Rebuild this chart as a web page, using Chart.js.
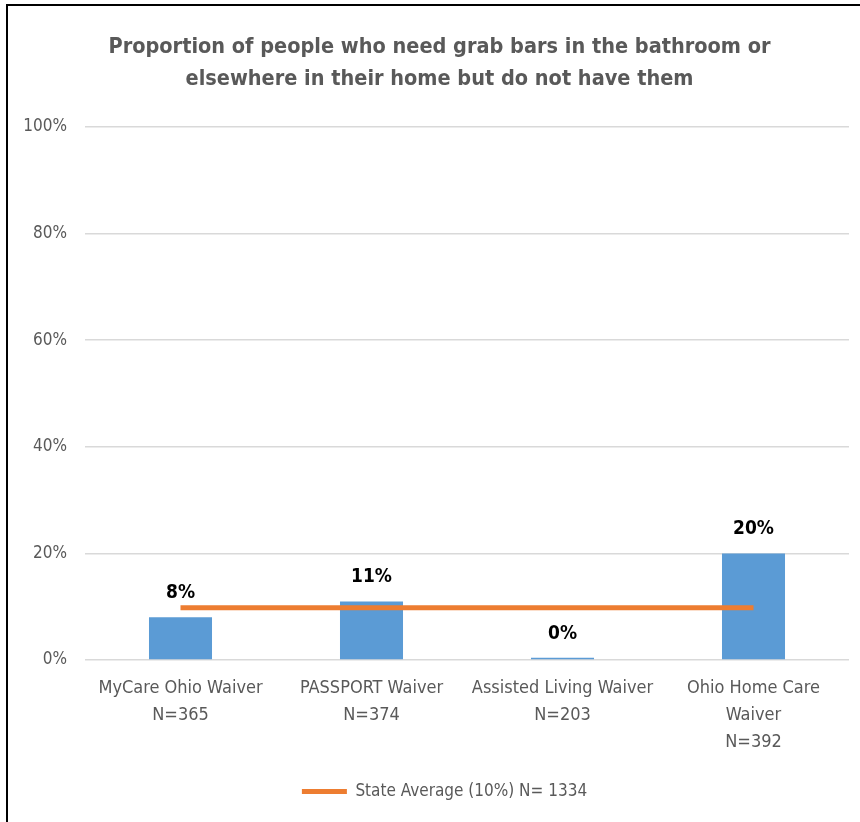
<!DOCTYPE html>
<html>
<head>
<meta charset="utf-8">
<script src="https://cdn.jsdelivr.net/npm/chart.js@4/dist/chart.umd.min.js"></script>
<style>
  html, body { margin: 0; padding: 0; background: #fff; }
  #wrap { position: relative; width: 860px; height: 822px; }
  #frame {
    position: absolute; left: 6px; top: 4px; right: 0; bottom: 0;
    border-top: 2px solid #000; border-left: 2px solid #000;
    pointer-events: none;
  }
</style>
</head>
<body>
<div id="wrap">
  <canvas id="chart" width="860" height="822"></canvas>
  <div id="frame"></div>
</div>
<script>
const categories = [
  ['MyCare Ohio Waiver', 'N=365'],
  ['PASSPORT Waiver', 'N=374'],
  ['Assisted Living Waiver', 'N=203'],
  ['Ohio Home Care', 'Waiver', 'N=392'],
]
const waiverValues = [8, 11, 0.4, 20]
const stateAverage = [9.8, 9.8, 9.8, 9.8]
const yTicks = [0, 20, 40, 60, 80, 100]

const FONT = "'Liberation Sans Narrow', 'DejaVu Sans Condensed', 'Arial Narrow', sans-serif"
const grey = '#595959'

// value labels above the bars
const barLabels = {
  id: 'barLabels',
  afterLayout(chart) {
    // title and legend sit a bit right of centre in the original
    chart.titleBlock.left += 15
    chart.titleBlock.right += 15
    chart.legend.left += 20
    chart.legend.right += 20
  },
  afterDatasetsDraw(chart) {
    const meta = chart.getDatasetMeta(1)
    const ctx = chart.ctx
    ctx.save()
    ctx.font = 'bold 19px ' + FONT
    ctx.fillStyle = '#000'
    ctx.textAlign = 'center'
    ctx.textBaseline = 'middle'
    meta.data.forEach((bar, i) => {
      ctx.fillText(Math.round(waiverValues[i]) + '%', bar.x, bar.y - 24)
    })
    ctx.restore()
  },
}

new Chart(document.getElementById('chart'), {
  data: {
    labels: categories,
    datasets: [
      {
        type: 'line',
        label: 'State Average (10%) N= 1334',
        data: stateAverage,
        borderColor: '#ED7D31',
        backgroundColor: '#ED7D31',
        borderWidth: 5,
        pointRadius: 0,
        order: 0,
      },
      {
        type: 'bar',
        label: 'Waiver',
        data: waiverValues,
        backgroundColor: '#5B9BD5',
        barPercentage: 0.66,
        categoryPercentage: 0.5,
        order: 1,
      },
    ],
  },
  options: {
    responsive: false,
    animation: false,
    layout: { padding: { top: 0, right: 11, bottom: 12, left: 0 } },
    plugins: {
      title: {
        display: true,
        text: ['Proportion of people who need grab bars in the bathroom or', 'elsewhere in their home but do not have them'],
        color: grey,
        font: { family: FONT, size: 21.5, weight: 'bold', lineHeight: 1.49 },
        padding: { top: 31, bottom: 32 },
      },
      legend: {
        position: 'bottom',
        labels: {
          color: grey,
          font: { family: FONT, size: 17 },
          boxWidth: 45,
          boxHeight: 5,
          padding: 10,
          generateLabels: () => [{
            text: 'State Average (10%) N= 1334',
            fillStyle: '#ED7D31',
            strokeStyle: '#ED7D31',
            lineWidth: 0,
            datasetIndex: 0,
            fontColor: grey,
          }],
        },
      },
      tooltip: { enabled: false },
    },
    scales: {
      x: {
        grid: { display: false, drawTicks: false },
        border: { display: false },
        ticks: {
          color: grey,
          font: { family: FONT, size: 18, lineHeight: 1.5 },
          padding: 15,
          maxRotation: 0,
          autoSkip: false,
        },
        afterFit: (s) => { s.height = 113 },
      },
      y: {
        min: 0,
        max: 100,
        afterBuildTicks: (s) => { s.ticks = yTicks.map((v) => ({ value: v })) },
        grid: { color: '#d9d9d9', lineWidth: 1.5, drawTicks: false },
        border: { display: false },
        ticks: {
          color: grey,
          font: { family: FONT, size: 17 },
          padding: 18,
          callback: (v) => v + '%',
        },
        afterFit: (s) => { s.width = 85 },
      },
    },
  },
  plugins: [barLabels],
})
</script>
</body>
</html>
